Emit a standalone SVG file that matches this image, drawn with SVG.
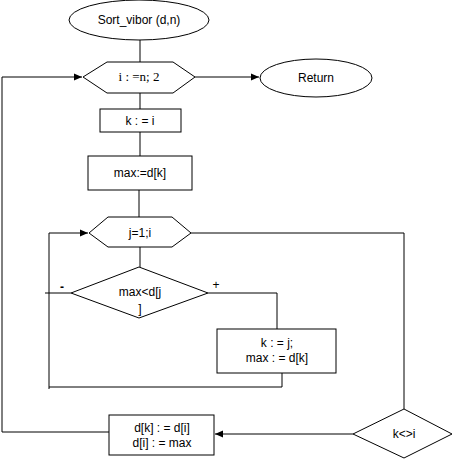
<svg xmlns="http://www.w3.org/2000/svg" width="457" height="461" viewBox="0 0 457 461">
<defs>
<style>
.s{fill:#fff;stroke:#000;stroke-width:1}
.c{fill:none;stroke:#000;stroke-width:1}
.t{font-family:"Liberation Sans",Arial,sans-serif;font-size:12px;fill:#000;text-anchor:middle}
.tr{font-family:"Liberation Serif","Times New Roman",serif;font-size:13px;fill:#000;text-anchor:middle}
</style>
<marker id="ah" markerWidth="8" markerHeight="8" refX="8" refY="4" orient="auto" markerUnits="userSpaceOnUse">
<path d="M0,0.5 L8,4 L0,7.5 Z" fill="#000"/>
</marker>
</defs>
<rect width="457" height="461" fill="#fff"/>
<g id="connectors">
<line class="c" x1="140" y1="40" x2="140" y2="62"/>
<polyline class="c" points="109,432 2,432 2,77 82,77" marker-end="url(#ah)"/>
<line class="c" x1="195" y1="77" x2="259" y2="77" marker-end="url(#ah)"/>
<line class="c" x1="140" y1="93" x2="140" y2="109"/>
<line class="c" x1="140" y1="132" x2="140" y2="156"/>
<line class="c" x1="139" y1="190" x2="139" y2="217"/>
<polyline class="c" points="49,389 49,233 88,233" marker-end="url(#ah)"/>
<line class="c" x1="140" y1="247" x2="140" y2="267"/>
<polyline class="c" points="191,233 404,233 404,409"/>
<line class="c" x1="45" y1="293" x2="71" y2="293"/>
<polyline class="c" points="208,293 277,293 277,329"/>
<polyline class="c" points="282,373 282,387 49,387"/>
<line class="c" x1="353" y1="434" x2="215" y2="434" marker-end="url(#ah)"/>
</g>
<g id="start">
<ellipse class="s" cx="139" cy="20" rx="70" ry="20"/>
<text class="t" x="139" y="24">Sort_vibor (d,n)</text>
</g>
<g id="loop-i">
<polygon class="s" points="83,77 107,62 173,62 195,77 173,93 107,93"/>
<text class="tr" x="139" y="81">i : =n; 2</text>
</g>
<g id="return">
<ellipse class="s" cx="316" cy="78" rx="56" ry="19"/>
<text class="t" x="316" y="82">Return</text>
</g>
<g id="k-assign">
<rect class="s" x="100" y="109" width="81" height="23"/>
<text class="t" x="140" y="125">k : = i</text>
</g>
<g id="max-assign">
<rect class="s" x="88" y="156" width="104" height="34"/>
<text class="t" x="140" y="177">max:=d[k]</text>
</g>
<g id="loop-j">
<polygon class="s" points="89,233 108,217 172,217 191,233 172,247 108,247"/>
<text class="t" x="140" y="237">j=1;i</text>
</g>
<g id="cond-max">
<polygon class="s" points="139,267 208,293 139,318 71,293"/>
<text class="t" x="140" y="296">max&lt;d[j</text>
<text class="t" x="140" y="313">]</text>
<text class="t" x="62" y="291" font-weight="bold">-</text>
<text class="t" x="216" y="289">+</text>
</g>
<g id="update">
<rect class="s" x="217" y="329" width="119" height="44"/>
<text class="t" x="277" y="347">k : = j;</text>
<text class="t" x="277" y="362">max : = d[k]</text>
</g>
<g id="cond-k">
<polygon class="s" points="404,409 452,434 404,458 353,434"/>
<text class="t" x="404" y="438">k&lt;&gt;i</text>
</g>
<g id="swap">
<rect class="s" x="109" y="415" width="105" height="40"/>
<text class="t" x="162" y="432">d[k] : = d[i]</text>
<text class="t" x="162" y="447">d[i] : = max</text>
</g>
</svg>
